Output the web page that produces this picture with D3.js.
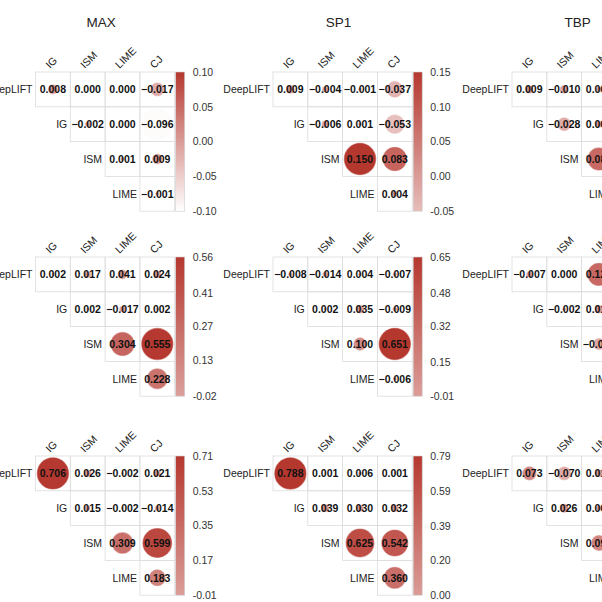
<!DOCTYPE html>
<html lang="en">
<head>
<meta charset="UTF-8">
<title>Attribution method correlations</title>
<style>
  body { margin: 0; background: #fff; }
  svg { display: block; font-family: "Liberation Sans", Arial, sans-serif; }
</style>
</head>
<body>
<svg width="602" height="602"></svg>
<script src="https://d3js.org/d3.v7.min.js"></script>
<script>
const rowMethods = ["DeepLIFT", "IG", "ISM", "LIME"];
const colMethods = ["IG", "ISM", "LIME", "CJ"];
const datasets = ["MAX", "SP1", "TBP"];

// upper triangle, one array per row (DeepLIFT, IG, ISM, LIME)
const max1 = [[0.008, 0.000, 0.000, -0.017], [-0.002, 0.000, -0.096], [0.001, 0.009], [-0.001]];
const sp1_1 = [[0.009, -0.004, -0.001, -0.037], [-0.006, 0.001, -0.053], [0.150, 0.083], [0.004]];
const tbp1 = [[0.009, -0.010, 0.004, -0.012], [-0.028, 0.006, -0.031], [0.085, 0.168], [0.011]];

const max2 = [[0.002, 0.017, 0.041, 0.024], [0.002, -0.017, 0.002], [0.304, 0.555], [0.228]];
const sp1_2 = [[-0.008, -0.014, 0.004, -0.007], [0.002, 0.035, -0.009], [0.100, 0.651], [-0.006]];
const tbp2 = [[-0.007, 0.000, 0.125, 0.052], [-0.002, 0.014, 0.007], [-0.031, 0.208], [0.246]];

const max3 = [[0.706, 0.026, -0.002, 0.021], [0.015, -0.002, -0.014], [0.309, 0.599], [0.183]];
const sp1_3 = [[0.788, 0.001, 0.006, 0.001], [0.039, 0.030, 0.032], [0.625, 0.542], [0.360]];
const tbp3 = [[0.073, -0.070, 0.018, 0.034], [0.026, 0.009, 0.012], [0.091, 0.412], [0.102]];

// colour bar tick labels, top to bottom
const max1Ticks = ["0.10", "0.05", "0.00", "-0.05", "-0.10"];
const sp1_1Ticks = ["0.15", "0.10", "0.05", "0.00", "-0.05"];
const tbp1Ticks = ["0.17", "0.12", "0.07", "0.02", "-0.03"];
const max2Ticks = ["0.56", "0.41", "0.27", "0.13", "-0.02"];
const sp1_2Ticks = ["0.65", "0.48", "0.32", "0.15", "-0.01"];
const tbp2Ticks = ["0.25", "0.18", "0.11", "0.04", "-0.03"];
const max3Ticks = ["0.71", "0.53", "0.35", "0.17", "-0.01"];
const sp1_3Ticks = ["0.79", "0.59", "0.39", "0.20", "0.00"];
const tbp3Ticks = ["0.41", "0.29", "0.17", "0.05", "-0.07"];

const panelValues = [[max1, sp1_1, tbp1], [max2, sp1_2, tbp2], [max3, sp1_3, tbp3]];
const panelTicks = [[max1Ticks, sp1_1Ticks, tbp1Ticks], [max2Ticks, sp1_2Ticks, tbp2Ticks], [max3Ticks, sp1_3Ticks, tbp3Ticks]];

// layout
const cell = 34.8;
const gridX = [35.5, 273, 512];
const gridY = [72, 257, 456];
const svg = d3.select("svg");
const defs = svg.append("defs");
const fmt = v => (v < 0 ? "\u2212" : "") + d3.format(".3f")(Math.abs(v));

function drawPanel(r, c) {
  const vals = panelValues[r][c];
  const ticks = panelTicks[r][c].map(Number);
  const lim = [d3.min(ticks), d3.max(ticks)];
  const M = Math.max(Math.abs(lim[0]), Math.abs(lim[1]));
  const gx = gridX[c], gy = gridY[r];

  const x = d3.scaleBand().domain(colMethods).range([gx, gx + cell * 4]);
  const y = d3.scaleBand().domain(rowMethods).range([gy, gy + cell * 4]);
  const color = d3.scaleLinear().domain([-M, M]).range(["#ffffff", "#b5382f"]);
  const radius = d3.scaleSqrt().domain([0, M]).range([0, cell * 0.45]);

  const cells = [];
  rowMethods.forEach((rm, i) => {
    vals[i].forEach((v, k) => cells.push({row: rm, col: colMethods[i + k], v: v}));
  });

  const g = svg.append("g");

  g.selectAll("rect.cell").data(cells).join("rect")
    .attr("class", "cell")
    .attr("x", d => x(d.col)).attr("y", d => y(d.row))
    .attr("width", x.bandwidth()).attr("height", y.bandwidth())
    .attr("fill", "none").attr("stroke", "#dcdcdc").attr("stroke-width", 0.8);

  g.selectAll("circle").data(cells).join("circle")
    .attr("cx", d => x(d.col) + x.bandwidth() / 2)
    .attr("cy", d => y(d.row) + y.bandwidth() / 2)
    .attr("r", d => radius(Math.abs(d.v)))
    .attr("fill", d => color(d.v))
    .attr("stroke", d => color(d.v)).attr("stroke-opacity", 0.5).attr("stroke-width", 1.2);

  g.selectAll("text.val").data(cells).join("text")
    .attr("class", "val")
    .attr("x", d => x(d.col) + x.bandwidth() / 2)
    .attr("y", d => y(d.row) + y.bandwidth() / 2)
    .attr("dy", "0.36em")
    .attr("text-anchor", "middle")
    .attr("font-size", 10.5).attr("font-weight", "bold").attr("fill", "#111")
    .text(d => fmt(d.v));

  // row labels sit left of the first cell in each row
  g.selectAll("text.rowlab").data(rowMethods).join("text")
    .attr("class", "rowlab")
    .attr("x", (d, i) => x(colMethods[i]) - 3)
    .attr("y", d => y(d) + y.bandwidth() / 2)
    .attr("dy", "0.36em")
    .attr("text-anchor", "end")
    .attr("font-size", 10.5).attr("fill", "#222")
    .text(d => d);

  g.selectAll("text.collab").data(colMethods).join("text")
    .attr("class", "collab")
    .attr("transform", d => `translate(${x(d) + x.bandwidth() / 2 - 3},${gy - 3}) rotate(-45)`)
    .attr("font-size", 10.5).attr("fill", "#222")
    .text(d => d);

  // colour bar
  const barX = gx + cell * 4 + 1;
  const yBar = d3.scaleLinear().domain(lim).range([gy + cell * 4, gy]);
  const gid = `grad${r}${c}`;
  const grad = defs.append("linearGradient").attr("id", gid)
    .attr("x1", 0).attr("y1", 1).attr("x2", 0).attr("y2", 0);
  grad.append("stop").attr("offset", 0).attr("stop-color", color(lim[0]));
  grad.append("stop").attr("offset", 1).attr("stop-color", color(lim[1]));

  g.append("rect")
    .attr("x", barX).attr("y", yBar(lim[1]))
    .attr("width", 9).attr("height", yBar(lim[0]) - yBar(lim[1]))
    .attr("fill", `url(#${gid})`).attr("stroke", "#d0d0d0").attr("stroke-width", 0.6);

  g.selectAll("text.tick").data(panelTicks[r][c]).join("text")
    .attr("class", "tick")
    .attr("x", barX + 17)
    .attr("y", d => yBar(+d))
    .attr("dy", "0.36em")
    .attr("font-size", 10.5).attr("fill", "#333")
    .text(d => d);

  if (r === 0) {
    svg.append("text")
      .attr("x", gx + cell * 2 - 4).attr("y", 27)
      .attr("text-anchor", "middle")
      .attr("font-size", 13.5).attr("fill", "#222")
      .text(datasets[c]);
  }
}

for (let r = 0; r < 3; r++) {
  for (let c = 0; c < 3; c++) drawPanel(r, c);
}
</script>
</body>
</html>
